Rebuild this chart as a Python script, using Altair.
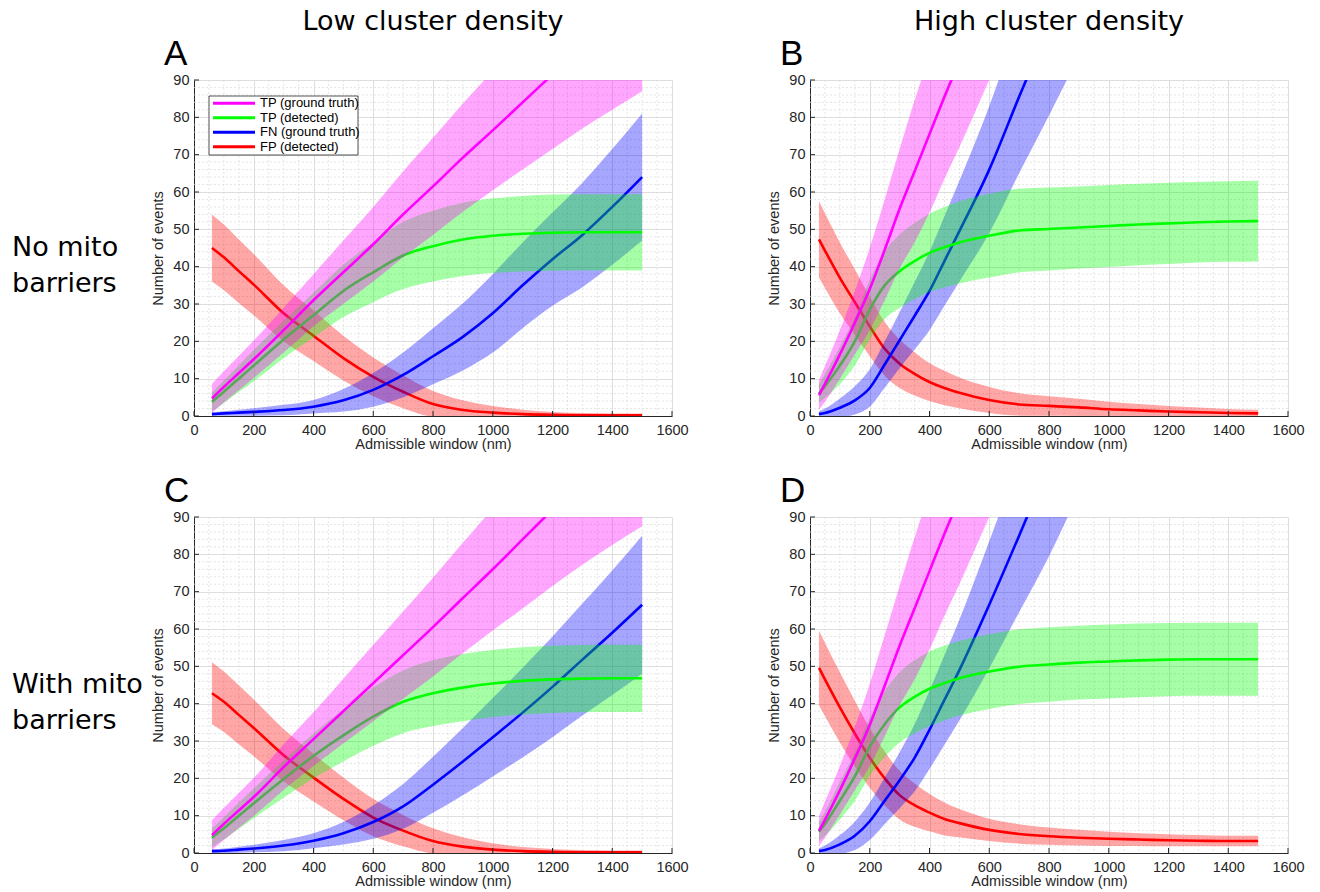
import altair as alt
import pandas as pd

# ---------------- data ----------------
SERIES = ["TP (ground truth)", "TP (detected)", "FN (ground truth)", "FP (detected)"]
COLORS = ["#ff00ff", "#00ff00", "#0000ff", "#ff0000"]
DRAW_ORDER = ["FP (detected)", "FN (ground truth)", "TP (detected)", "TP (ground truth)"]

COL_TITLES = ["Low cluster density", "High cluster density"]
ROW_LABELS = ["No mito\nbarriers", "With mito\nbarriers"]
LETTERS = ["A", "B", "C", "D"]

X_TICKS = [0, 200, 400, 600, 800, 1000, 1200, 1400, 1600]
Y_TICKS = [0, 10, 20, 30, 40, 50, 60, 70, 80, 90]
X_MINOR = [50, 100, 150, 250, 300, 350, 450, 500, 550, 650, 700, 750, 850, 900, 950,
           1050, 1100, 1150, 1250, 1300, 1350, 1450, 1500, 1550]
Y_MINOR = [2, 4, 6, 8, 12, 14, 16, 18, 22, 24, 26, 28, 32, 34, 36, 38, 42, 44, 46, 48,
           52, 54, 56, 58, 62, 64, 66, 68, 72, 74, 76, 78, 82, 84, 86, 88]

# low cluster density panels (A, C)
X_LOW = [60, 100, 150, 200, 300, 400, 500, 600, 700, 800, 900, 1000, 1100, 1200, 1300, 1400, 1500]

A_TPgt = [4.7, 7.8, 11.5, 15.2, 23.0, 31.0, 38.5, 46.0, 54.0, 61.5, 69.2, 76.5, 84.0, 91.5, 99.0, 106.0, 113.0]
A_TPgt_sd = [3.9, 4.2, 4.6, 5.0, 6.0, 7.0, 8.5, 10.0, 11.5, 13.0, 14.5, 16.0, 18.0, 20.0, 22.0, 24.0, 26.0]
A_TPdet = [3.8, 6.5, 10.0, 13.5, 20.5, 27.0, 33.5, 38.5, 43.0, 45.5, 47.3, 48.3, 48.8, 49.1, 49.2, 49.2, 49.2]
A_TPdet_sd = [2.5, 3.0, 3.6, 4.2, 5.0, 6.0, 7.0, 8.0, 9.0, 9.5, 9.8, 10.0, 10.1, 10.2, 10.2, 10.2, 10.2]
A_FNgt = [0.5, 0.7, 0.9, 1.1, 1.6, 2.5, 4.2, 7.0, 11.0, 16.0, 21.2, 27.5, 35.0, 42.0, 48.5, 56.0, 64.0]
A_FNgt_sd = [0.5, 0.6, 0.8, 1.0, 1.4, 1.8, 3.0, 4.5, 6.0, 7.5, 9.0, 10.5, 11.5, 12.5, 14.0, 15.5, 17.0]
A_FPdet = [45.0, 42.5, 38.8, 35.2, 27.5, 21.5, 15.5, 10.5, 6.5, 3.2, 1.6, 0.9, 0.5, 0.3, 0.2, 0.2, 0.2]
A_FPdet_sd = [9.0, 8.8, 8.5, 8.2, 7.5, 6.8, 6.0, 5.2, 4.4, 3.5, 2.6, 1.8, 1.2, 0.8, 0.6, 0.5, 0.5]

C_TPgt = [4.8, 7.8, 11.4, 15.0, 23.0, 30.5, 38.0, 45.5, 53.0, 60.5, 68.3, 76.0, 84.0, 92.0, 100.0, 107.5, 115.0]
C_TPgt_sd = [4.0, 4.3, 4.7, 5.1, 6.1, 7.2, 8.7, 10.2, 11.7, 13.2, 14.8, 16.4, 18.5, 20.5, 22.8, 25.0, 27.5]
C_TPdet = [4.1, 6.6, 10.0, 13.3, 19.8, 26.0, 31.5, 36.5, 40.5, 42.8, 44.3, 45.4, 46.1, 46.5, 46.7, 46.8, 46.8]
C_TPdet_sd = [2.5, 3.0, 3.5, 4.0, 5.0, 6.0, 7.0, 7.8, 8.4, 8.8, 9.0, 9.0, 9.0, 9.0, 9.0, 9.0, 9.0]
C_FNgt = [0.5, 0.6, 0.9, 1.2, 2.0, 3.3, 5.3, 8.3, 12.5, 18.3, 24.5, 31.0, 37.6, 44.5, 51.8, 59.0, 66.5]
C_FNgt_sd = [0.5, 0.6, 0.8, 1.0, 1.5, 2.0, 3.0, 4.5, 6.0, 7.5, 9.0, 10.5, 12.0, 13.5, 15.0, 16.7, 18.5]
C_FPdet = [42.8, 40.5, 37.0, 33.5, 26.2, 20.2, 14.5, 9.5, 6.0, 3.2, 1.7, 0.9, 0.5, 0.3, 0.2, 0.2, 0.2]
C_FPdet_sd = [8.3, 8.1, 7.9, 7.6, 7.0, 6.4, 5.7, 5.0, 4.2, 3.4, 2.5, 1.7, 1.1, 0.8, 0.6, 0.5, 0.5]

# high cluster density panels (B, D)
X_HIGH = [30, 50, 100, 150, 200, 250, 300, 350, 400, 450, 500, 600, 700, 800, 900,
          1000, 1100, 1200, 1300, 1400, 1500]

B_TPgt = [5.6, 8.6, 16.5, 25.0, 34.0, 44.5, 55.5, 65.5, 75.5, 85.5, 95.0, 114.0, 133.0,
          None, None, None, None, None, None, None, None]
B_TPgt_sd = [4.0, 4.8, 6.5, 8.5, 11.0, 13.5, 16.0, 19.0, 21.0, 22.0, 23.0, 24.0, 26.0,
             None, None, None, None, None, None, None, None]
B_TPdet = [6.0, 8.0, 13.5, 20.0, 28.5, 35.0, 38.8, 41.5, 43.7, 45.2, 46.5, 48.3, 49.7, 50.1, 50.5,
           50.9, 51.3, 51.6, 51.9, 52.1, 52.2]
B_TPdet_sd = [2.5, 3.2, 5.0, 6.5, 8.0, 9.0, 9.8, 10.2, 10.5, 10.8, 11.0, 11.2, 11.2, 11.1, 11.0,
              11.0, 10.9, 10.9, 10.8, 10.8, 10.8]
B_FNgt = [0.5, 0.8, 2.2, 4.2, 7.5, 13.8, 20.3, 26.8, 33.5, 41.5, 49.5, 66.0, 85.5, 104.5, 123.5,
          None, None, None, None, None, None]
B_FNgt_sd = [0.8, 1.2, 2.5, 3.8, 5.0, 6.2, 7.5, 9.0, 10.5, 12.0, 13.5, 17.0, 20.5, 24.0, 27.0,
             None, None, None, None, None, None]
B_FPdet = [47.3, 44.3, 37.0, 30.5, 24.0, 18.0, 14.0, 11.3, 9.1, 7.5, 6.2, 4.3, 3.1, 2.7, 2.3,
           1.8, 1.5, 1.2, 1.0, 0.8, 0.7]
B_FPdet_sd = [10.2, 10.0, 9.5, 8.8, 8.0, 7.2, 6.5, 5.8, 5.1, 4.6, 4.1, 3.5, 3.0, 2.6, 2.3,
              2.0, 1.7, 1.5, 1.3, 1.1, 1.0]

D_TPgt = [5.9, 8.9, 16.8, 25.3, 34.3, 44.8, 55.5, 65.5, 75.5, 85.5, 95.0, 114.0, 133.0,
          None, None, None, None, None, None, None, None]
D_TPgt_sd = [4.0, 4.8, 6.5, 8.5, 11.0, 13.5, 16.0, 19.0, 21.0, 22.0, 23.0, 24.0, 26.0,
             None, None, None, None, None, None, None, None]
D_TPdet = [5.7, 7.8, 14.0, 20.5, 28.5, 34.5, 39.0, 41.8, 44.0, 45.5, 46.8, 48.6, 49.9, 50.5, 51.0,
           51.3, 51.6, 51.8, 51.9, 51.9, 51.9]
D_TPdet_sd = [2.5, 3.2, 5.0, 6.5, 7.8, 8.8, 9.4, 9.8, 10.0, 10.0, 10.0, 10.0, 10.0, 10.0, 9.9,
              9.9, 9.9, 9.8, 9.8, 9.8, 9.8]
D_FNgt = [0.5, 0.8, 2.3, 4.6, 8.5, 14.0, 19.5, 25.5, 33.0, 41.0, 49.0, 66.5, 85.0, 104.0, 123.0,
          None, None, None, None, None, None]
D_FNgt_sd = [0.8, 1.2, 2.5, 3.8, 5.0, 6.2, 7.5, 9.0, 10.5, 12.0, 13.5, 17.0, 20.5, 24.5, 26.5,
             None, None, None, None, None, None]
D_FPdet = [49.6, 46.5, 39.0, 32.0, 25.5, 20.0, 15.5, 12.8, 10.8, 9.1, 8.0, 6.2, 5.1, 4.5, 4.1,
           3.8, 3.6, 3.4, 3.3, 3.2, 3.2]
D_FPdet_sd = [10.0, 9.8, 9.4, 8.8, 8.0, 7.2, 6.5, 5.8, 5.0, 4.4, 3.8, 3.0, 2.6, 2.3, 2.1,
              1.9, 1.7, 1.6, 1.5, 1.4, 1.4]

PANELS = {
    "A": (X_LOW, {SERIES[0]: (A_TPgt, A_TPgt_sd), SERIES[1]: (A_TPdet, A_TPdet_sd),
                  SERIES[2]: (A_FNgt, A_FNgt_sd), SERIES[3]: (A_FPdet, A_FPdet_sd)}),
    "B": (X_HIGH, {SERIES[0]: (B_TPgt, B_TPgt_sd), SERIES[1]: (B_TPdet, B_TPdet_sd),
                   SERIES[2]: (B_FNgt, B_FNgt_sd), SERIES[3]: (B_FPdet, B_FPdet_sd)}),
    "C": (X_LOW, {SERIES[0]: (C_TPgt, C_TPgt_sd), SERIES[1]: (C_TPdet, C_TPdet_sd),
                  SERIES[2]: (C_FNgt, C_FNgt_sd), SERIES[3]: (C_FPdet, C_FPdet_sd)}),
    "D": (X_HIGH, {SERIES[0]: (D_TPgt, D_TPgt_sd), SERIES[1]: (D_TPdet, D_TPdet_sd),
                   SERIES[2]: (D_FNgt, D_FNgt_sd), SERIES[3]: (D_FPdet, D_FPdet_sd)}),
}

# ---------------- styling ----------------
W, H = 478, 336
AX_COLOR = "#262626"
AX_FONT = "Liberation Sans"
TITLE_FONT = "DejaVu Sans"

xscale = alt.Scale(domain=[0, 1600], nice=False, zero=False)
yscale = alt.Scale(domain=[0, 90], nice=False, zero=False)
xaxis = alt.Axis(values=X_TICKS, title="Admissible window (nm)", labelFlush=False,
                 labelOverlap=False, labelPadding=7, titlePadding=1, format="d")
yaxis = alt.Axis(values=Y_TICKS, title="Number of events", labelFlush=False,
                 labelOverlap=False, labelPadding=5, titlePadding=7, format="d")

one = pd.DataFrame({"t": [""]})


def series_frame(xs, mean, sd):
    rows = []
    for x, m, s in zip(xs, mean, sd):
        if m is None:
            continue
        rows.append({"x": x, "mean": m, "lo": m - s, "hi": m + s})
    return pd.DataFrame(rows)


def panel(key, idx):
    xs, data = PANELS[key]
    layers = []
    # minor grid
    layers.append(
        alt.Chart(pd.DataFrame({"v": X_MINOR})).mark_rule(
            color="#dadada", strokeDash=[2, 2], strokeWidth=0.7
        ).encode(x=alt.X("v:Q", scale=xscale, axis=xaxis))
    )
    layers.append(
        alt.Chart(pd.DataFrame({"v": Y_MINOR})).mark_rule(
            color="#dadada", strokeDash=[2, 2], strokeWidth=0.7
        ).encode(y=alt.Y("v:Q", scale=yscale, axis=yaxis))
    )
    for s in DRAW_ORDER:
        col = COLORS[SERIES.index(s)]
        mean, sd = data[s]
        df = series_frame(xs, mean, sd)
        base = alt.Chart(df)
        layers.append(
            base.mark_area(color=col, opacity=0.35, clip=True, interpolate="monotone").encode(
                x=alt.X("x:Q", scale=xscale, axis=xaxis),
                y=alt.Y("lo:Q", scale=yscale, axis=yaxis),
                y2="hi:Q",
            )
        )
        layers.append(
            base.mark_line(color=col, strokeWidth=2.6, clip=True, interpolate="monotone").encode(
                x=alt.X("x:Q", scale=xscale, axis=xaxis),
                y=alt.Y("mean:Q", scale=yscale, axis=yaxis),
            )
        )
    # inward ticks
    layers.append(
        alt.Chart(pd.DataFrame({"v": X_TICKS})).mark_rule(color=AX_COLOR, strokeWidth=1).encode(
            x=alt.X("v:Q", scale=xscale, axis=xaxis), y=alt.value(H), y2=alt.value(H - 5)
        )
    )
    layers.append(
        alt.Chart(pd.DataFrame({"v": Y_TICKS})).mark_rule(color=AX_COLOR, strokeWidth=1).encode(
            y=alt.Y("v:Q", scale=yscale, axis=yaxis), x=alt.value(0), x2=alt.value(5)
        )
    )
    # legend (panel A only)
    if key == "A":
        layers.append(
            alt.Chart(one).mark_rect(fill="white", stroke=AX_COLOR, strokeWidth=0.8).encode(
                x=alt.value(15), x2=alt.value(164), y=alt.value(16), y2=alt.value(75)
            )
        )
        for i, s in enumerate(SERIES):
            yy = 23.3 + 14.5 * i
            layers.append(
                alt.Chart(one).mark_rule(color=COLORS[i], strokeWidth=3).encode(
                    x=alt.value(19), x2=alt.value(61), y=alt.value(yy)
                )
            )
            layers.append(
                alt.Chart(pd.DataFrame({"t": [s]})).mark_text(
                    align="left", baseline="middle", fontSize=13, font=AX_FONT, color="black"
                ).encode(x=alt.value(66), y=alt.value(yy), text="t:N")
            )
    # panel letter
    layers.append(
        alt.Chart(pd.DataFrame({"t": [LETTERS[idx]]})).mark_text(
            align="left", baseline="alphabetic", fontSize=35, font=AX_FONT, color="black"
        ).encode(x=alt.value(-30), y=alt.value(-15), text="t:N")
    )
    # column titles
    if idx < 2:
        layers.append(
            alt.Chart(pd.DataFrame({"t": [COL_TITLES[idx]]})).mark_text(
                align="center", baseline="alphabetic", fontSize=27, font=TITLE_FONT, color="black"
            ).encode(x=alt.value(W / 2), y=alt.value(-50), text="t:N")
        )
    # row labels
    if idx % 2 == 0:
        layers.append(
            alt.Chart(pd.DataFrame({"t": [ROW_LABELS[idx // 2]]})).mark_text(
                align="left", baseline="alphabetic", fontSize=27, font=TITLE_FONT,
                color="black", lineBreak="\n", lineHeight=36
            ).encode(x=alt.value(-182), y=alt.value(176), text="t:N")
        )
    return alt.layer(*layers).properties(width=W, height=H)


panels = [panel(k, i) for i, k in enumerate(["A", "B", "C", "D"])]

chart = alt.concat(
    *panels, columns=2, spacing={"row": 101, "column": 138}, bounds="flush"
).properties(
    padding={"left": 12, "top": 8, "right": 5, "bottom": 5},
    background="white",
).configure_view(
    stroke=None
).configure_axis(
    grid=True, gridColor="#dedede", gridWidth=1, ticks=False,
    domainColor=AX_COLOR, domainWidth=1,
    labelColor=AX_COLOR, labelFont=AX_FONT, labelFontSize=14.5,
    titleColor=AX_COLOR, titleFont=AX_FONT, titleFontSize=14.5, titleFontWeight="normal",
)

chart.save("out.html", embed_options={"renderer": "svg", "actions": False})
